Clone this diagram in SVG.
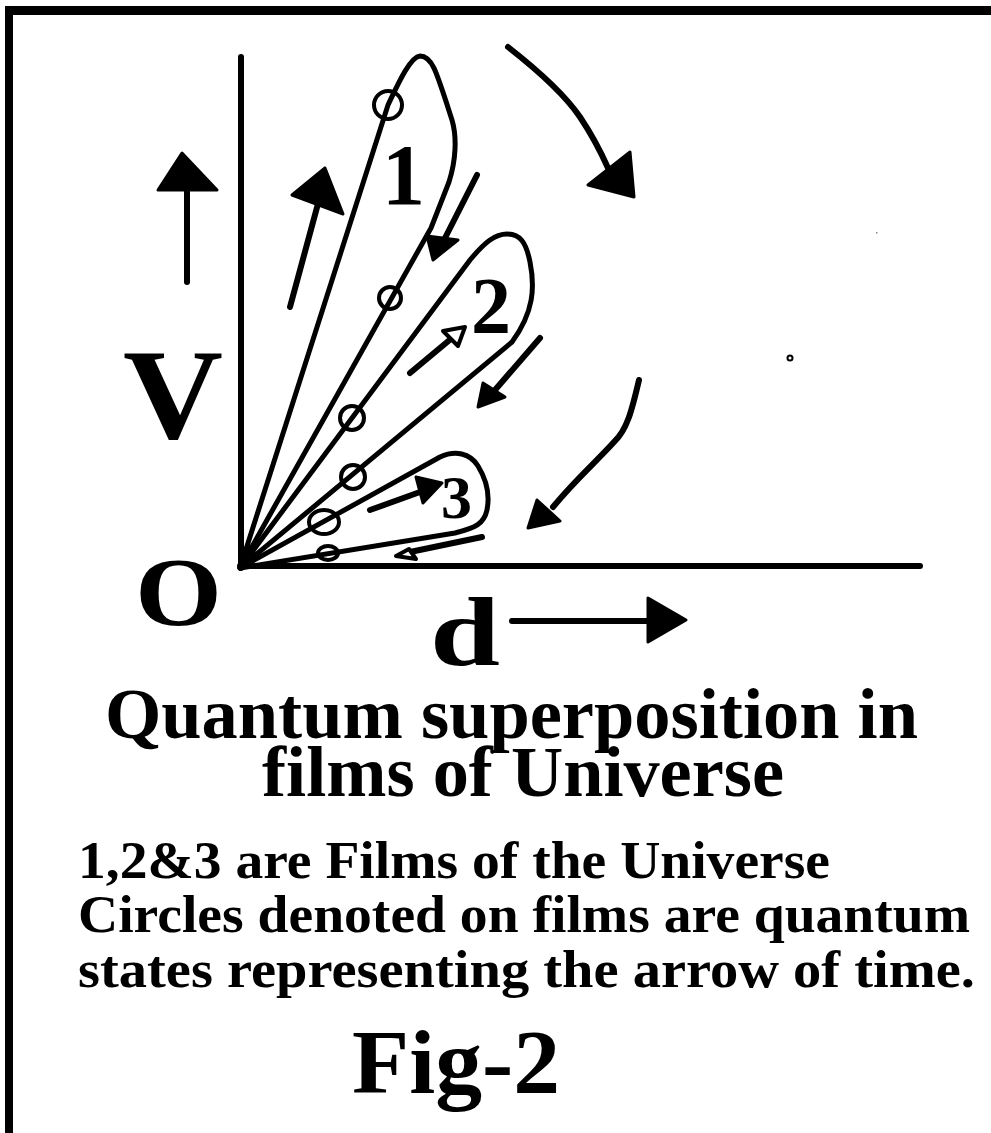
<svg xmlns="http://www.w3.org/2000/svg" width="991" height="1133" viewBox="0 0 991 1133">
<style>
.ln{fill:none;stroke:#000;stroke-width:6;stroke-linecap:round;stroke-linejoin:round}
.film{fill:none;stroke:#000;stroke-width:5;stroke-linejoin:round}
.st{fill:none;stroke:#000;stroke-width:4}
.hd{fill:#000;stroke:#000;stroke-width:3;stroke-linejoin:round}
.oh{fill:#fff;stroke:#000;stroke-width:4;stroke-linejoin:round}
.t{font-family:"Liberation Serif","Times New Roman",serif;font-weight:bold;fill:#000}
</style>
<rect x="0" y="0" width="991" height="1133" fill="#fff"/>
<g id="frame">
<rect x="5" y="6" width="986" height="9" fill="#000"/>
<rect x="5" y="6" width="8" height="1127" fill="#000"/>
</g>
<g id="axes">
<line class="ln" x1="241" y1="57" x2="241" y2="568"/>
<line class="ln" x1="240" y1="566" x2="920" y2="566"/>
</g>
<g id="film1">
<path class="film" d="M240,568 L388,105 C398,84 410,57 420,56 C432,56 436,70 452,120 C457,137 456,160 449,182 L431,228 Z"/>
<text class="t" x="382" y="204" font-size="86">1</text>
</g>
<g id="film2">
<path class="film" d="M240,568 L470,260 C485,242 495,234 507,234 C520,234 526,242 530,262 C535,287 534,312 512,342 Z"/>
<text class="t" x="471" y="333" font-size="80">2</text>
</g>
<g id="film3">
<path class="film" d="M240,568 L440,457 C455,450 470,453 478,466 C486,479 490,495 487,510 C484,524 475,528 455,533 Z"/>
<text class="t" x="441" y="518" font-size="62">3</text>
</g>
<g id="states">
<circle class="st" cx="388" cy="105" r="14"/>
<circle class="st" cx="390" cy="298" r="11"/>
<circle class="st" cx="352" cy="418" r="12"/>
<circle class="st" cx="353" cy="477" r="12"/>
<ellipse class="st" cx="324" cy="522" rx="15" ry="12"/>
<ellipse class="st" cx="328" cy="553" rx="10" ry="7"/>
</g>
<g id="connectors">
<line class="ln" x1="290" y1="307" x2="319" y2="200"/>
<polygon class="hd" points="325,168 292,195 343,214"/>
<line class="ln" x1="477" y1="175" x2="444" y2="240"/>
<polygon class="hd" points="433,260 427,236 458,240"/>
<line class="ln" x1="410" y1="373" x2="452" y2="338"/>
<polygon class="oh" points="465,327 443,331 458,346"/>
<line class="ln" x1="540" y1="338" x2="495" y2="390"/>
<polygon class="hd" points="478,407 483,383 505,397"/>
<line class="ln" x1="370" y1="510" x2="420" y2="492"/>
<polygon class="hd" points="442,483 416,477 423,503"/>
<line class="ln" x1="482" y1="537" x2="410" y2="552"/>
<polygon class="oh" points="396,556 409,549 416,559"/>
<path class="ln" d="M508,47 C540,72 565,95 580,117 C592,135 600,150 608,168"/>
<polygon class="hd" points="634,197 588,185 630,152"/>
<path class="ln" d="M639,380 C632,410 627,430 614,442 C595,463 575,480 553,507"/>
<polygon class="hd" points="528,528 537,500 560,521"/>
<line class="ln" x1="187" y1="282" x2="187" y2="185"/>
<polygon class="hd" points="182,153 158,190 217,190"/>
<line class="ln" x1="512" y1="621" x2="650" y2="621"/>
<polygon class="hd" points="686,620 648,598 648,642"/>
</g>
<g id="marks">
<circle cx="790" cy="358" r="2.5" fill="none" stroke="#000" stroke-width="2"/>
<rect x="876" y="232" width="1.5" height="1.5" fill="#888"/>
</g>
<g id="labels">
<text class="t" x="123" y="438" font-size="130" textLength="100" lengthAdjust="spacingAndGlyphs">V</text>
<text class="t" x="135" y="625" font-size="98" textLength="87" lengthAdjust="spacingAndGlyphs">O</text>
<text class="t" x="430" y="665" font-size="98" textLength="70" lengthAdjust="spacingAndGlyphs">d</text>
<text class="t" x="105" y="738" font-size="72" textLength="813" lengthAdjust="spacingAndGlyphs">Quantum superposition in</text>
<text class="t" x="262" y="796" font-size="72" textLength="522" lengthAdjust="spacingAndGlyphs">films of Universe</text>
<text class="t" x="78" y="878" font-size="52" textLength="752" lengthAdjust="spacingAndGlyphs">1,2&amp;3 are Films of the Universe</text>
<text class="t" x="78" y="932" font-size="52" textLength="892" lengthAdjust="spacingAndGlyphs">Circles denoted on films are quantum</text>
<text class="t" x="78" y="987" font-size="52" textLength="897" lengthAdjust="spacingAndGlyphs">states representing the arrow of time.</text>
<text class="t" x="352" y="1093" font-size="92" textLength="208" lengthAdjust="spacingAndGlyphs">Fig-2</text>
</g>
</svg>
